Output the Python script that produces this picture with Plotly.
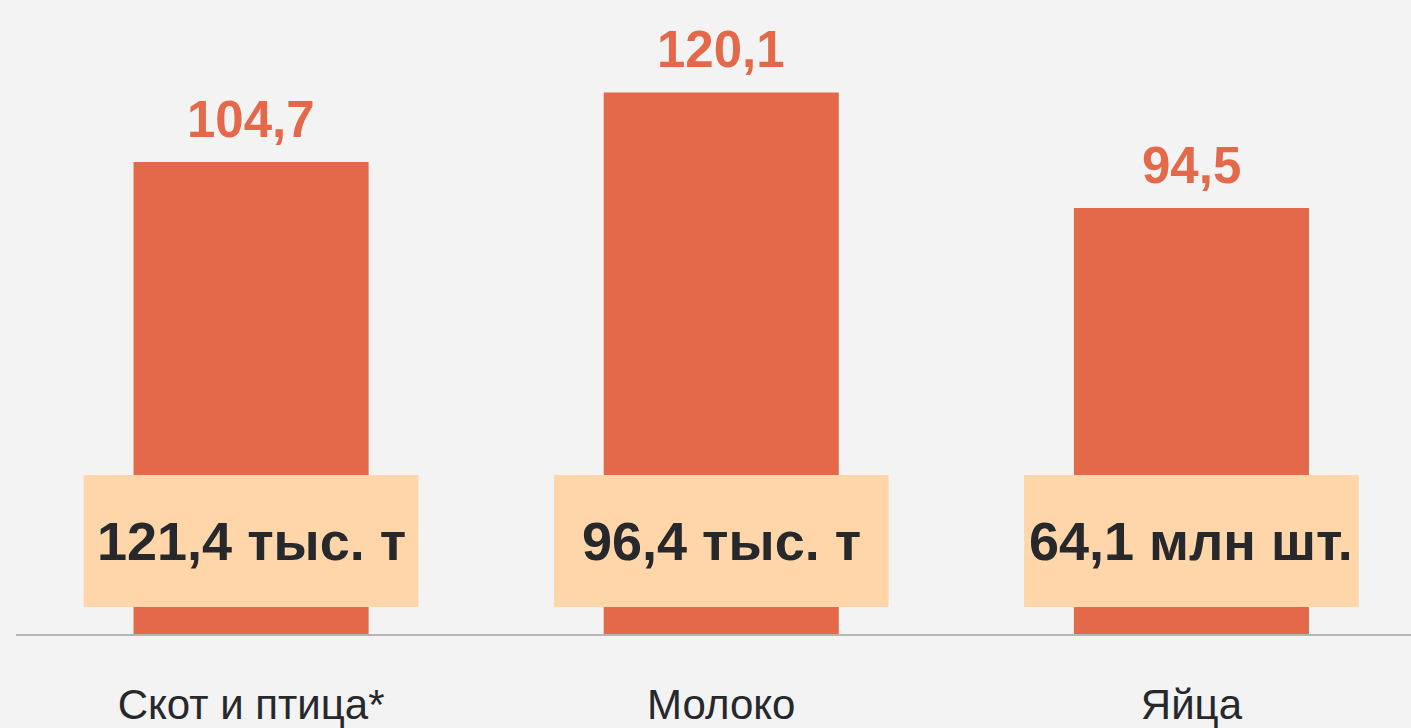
import plotly.graph_objects as go

categories = ["Скот и птица*", "Молоко", "Яйца"]
index_values = [104.7, 120.1, 94.5]
volume_labels = ["121,4 тыс. т", "96,4 тыс. т", "64,1 млн шт."]

BAR = "#e4694a"
BOX = "#fed6aa"
BG = "#f3f3f3"
DARK = "#26282c"
FONT = "Liberation Sans, Arial, sans-serif"

x = list(range(len(categories)))

fig = go.Figure()
fig.add_trace(go.Bar(
    x=x, y=index_values, width=0.5, marker=dict(color=BAR, line=dict(width=0)),
    hoverinfo="skip",
))

shapes = []
annotations = []
for i, (v, lab) in enumerate(zip(index_values, volume_labels)):
    shapes.append(dict(type="rect", xref="x", yref="y", x0=i - 0.356, x1=i + 0.356,
                       y0=6.0, y1=35.25, fillcolor=BOX, line=dict(width=0), layer="above"))
    annotations.append(dict(x=i, y=20.6, xref="x", yref="y", text="<b>%s</b>" % lab,
                            showarrow=False, font=dict(family=FONT, size=54, color=DARK),
                            xanchor="center", yanchor="middle"))
    annotations.append(dict(x=i, y=v, xref="x", yref="y",
                            text="<b>%s</b>" % ("%.1f" % v).replace(".", ","),
                            showarrow=False, font=dict(family=FONT, size=51, color=BAR),
                            xanchor="center", yanchor="bottom", yshift=12))

fig.update_layout(
    width=1411, height=728,
    margin=dict(l=16, r=0, t=0, b=94),
    paper_bgcolor=BG, plot_bgcolor=BG,
    showlegend=False,
    shapes=shapes, annotations=annotations,
    xaxis=dict(range=[-0.5, 2.467], tickmode="array", tickvals=x, ticktext=categories,
               showgrid=False, zeroline=False, showline=True, linecolor="#b5b5b5", linewidth=2,
               ticks="", ticklabelstandoff=33,
               tickfont=dict(family=FONT, size=42, color=DARK), fixedrange=True),
    yaxis=dict(range=[0, 140.6], visible=False, fixedrange=True),
    bargap=0.5,
)

fig.write_html("out.html", config={"displayModeBar": False},
               post_script="document.body.style.margin='0';document.body.style.overflow='hidden';document.body.style.background='%s';" % BG)
